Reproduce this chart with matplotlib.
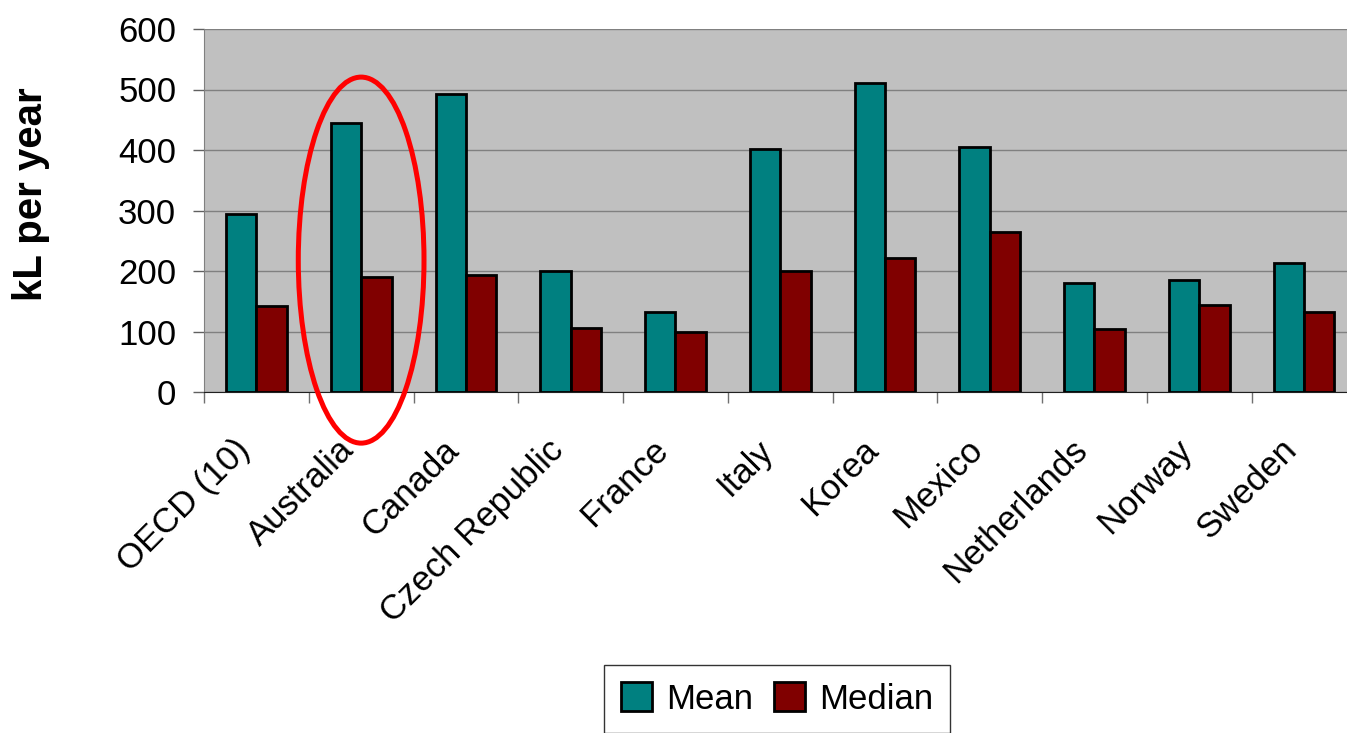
import matplotlib
matplotlib.use("Agg")
import matplotlib.pyplot as plt
import matplotlib.transforms as mtransforms
from matplotlib.patches import Ellipse
import numpy as np

plt.rcParams['font.family'] = ['Liberation Sans', 'DejaVu Sans']

# Data
countries = ["OECD (10)", "Australia", "Canada", "Czech Republic", "France",
             "Italy", "Korea", "Mexico", "Netherlands", "Norway", "Sweden"]
mean_vals = [294, 445, 492, 200, 133, 401, 510, 405, 180, 185, 213]
median_vals = [142, 190, 194, 105, 100, 200, 222, 265, 104, 143, 133]
yticks = [0, 100, 200, 300, 400, 500, 600]

TEAL = "#008080"
MAROON = "#800000"
GREY_BG = "#C0C0C0"

fig = plt.figure(figsize=(13.47, 7.33), dpi=100)
ax = fig.add_axes([204 / 1347, 1 - 392 / 733, 1152.4 / 1347, 363 / 733])
ax.set_facecolor(GREY_BG)

x = np.arange(len(countries))
w = 0.29
ax.bar(x - w / 2, mean_vals, w, color=TEAL, edgecolor="black", lw=2.0,
       label="Mean", zorder=3)
ax.bar(x + w / 2, median_vals, w, color=MAROON, edgecolor="black", lw=2.0,
       label="Median", zorder=3)

ax.set_xlim(-0.5, len(countries) - 0.5)
ax.set_ylim(0, 600)
ax.set_yticks(yticks)
ax.yaxis.grid(True, color="#808080", lw=1.0, zorder=1)
ax.set_axisbelow(True)

# category boundaries get the tick marks, labels sit at centres
ax.set_xticks(np.arange(-0.5, len(countries)), labels=[])
ax.set_xticks(x, labels=countries, minor=True)
ax.tick_params(axis="x", which="major", length=8, width=1, color="#707070",
               direction="out")
ax.tick_params(axis="x", which="minor", length=0, pad=38, labelsize=25)
ax.tick_params(axis="y", length=8, width=1, color="#606060", pad=12,
               labelsize=25)
shift = mtransforms.ScaledTranslation(-12 / 100, 0, fig.dpi_scale_trans)
for lbl in ax.get_xticklabels(minor=True):
    lbl.set_rotation(45)
    lbl.set_ha("right")
    lbl.set_va("center")
    lbl.set_rotation_mode("anchor")
    lbl.set_transform(lbl.get_transform() + shift)

for s in ("top", "right"):
    ax.spines[s].set_visible(False)
ax.spines["left"].set_color("#808080")
ax.spines["bottom"].set_color("#202020")

ax.set_ylabel("kL per year", fontsize=29, fontweight="bold")
ax.yaxis.label.set_va("center")
ax.yaxis.set_label_coords(-0.150, 0.545)

# highlight Australia
ax.add_patch(Ellipse((1, 218), width=1.2, height=605, fill=False,
                     edgecolor="red", lw=3.6, clip_on=False, zorder=5))

leg = fig.legend(loc="upper center", bbox_to_anchor=(777 / 1347, 1 - 665 / 733),
                 ncol=2, fontsize=25, frameon=True, fancybox=False,
                 edgecolor="black", handlelength=0.9, handleheight=0.9,
                 handletextpad=0.4, columnspacing=0.6, borderpad=0.5,
                 borderaxespad=0)
leg.get_frame().set_linewidth(1.0)

fig.savefig("out.png", dpi=100)
